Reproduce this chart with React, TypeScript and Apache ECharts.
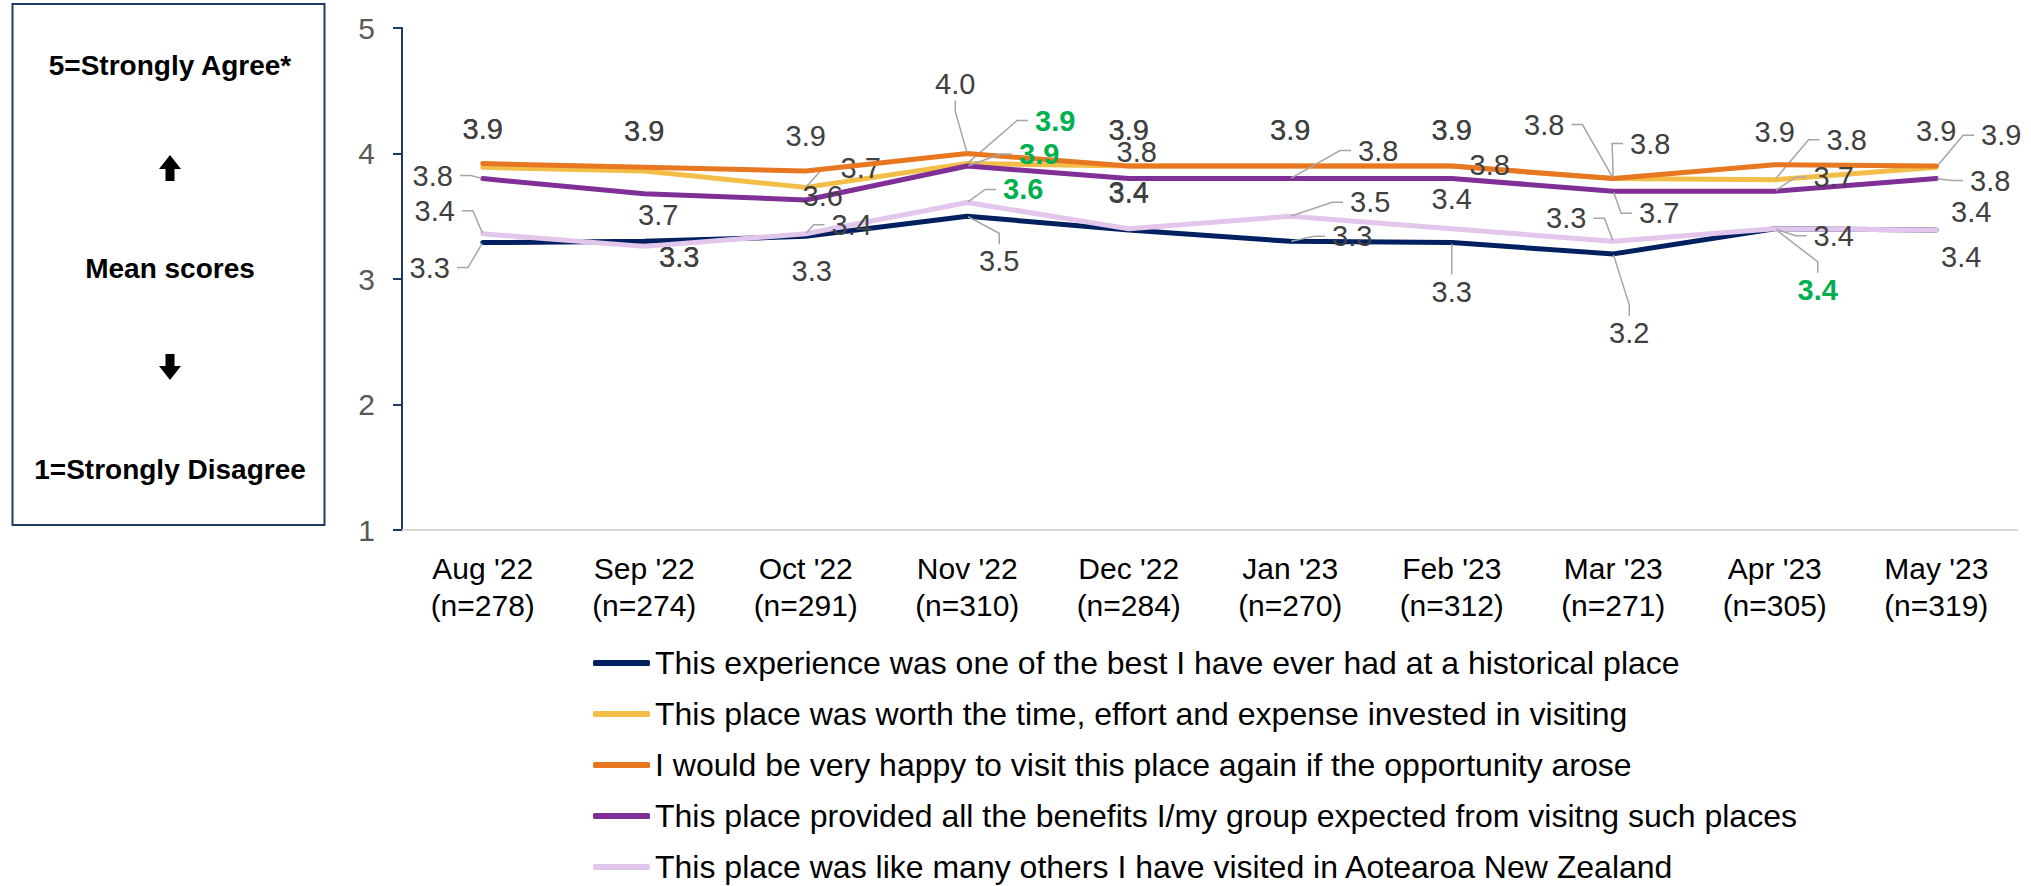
import React, { useEffect, useRef } from "react";
import * as echarts from "echarts";

// ---------- data ----------
const months = ["Aug '22", "Sep '22", "Oct '22", "Nov '22", "Dec '22", "Jan '23", "Feb '23", "Mar '23", "Apr '23", "May '23"];
const sampleSizes = [278, 274, 291, 310, 284, 270, 312, 271, 305, 319];

const seriesNames = [
  "This experience was one of the best I have ever had at a historical place",
  "This place was worth the time, effort and expense invested in visiting",
  "I would be very happy to visit this place again if the opportunity arose",
  "This place provided all the benefits I/my group expected from visitng such places",
  "This place was like many others I have visited in Aotearoa New Zealand",
];

const bestExperience = [3.29, 3.30, 3.34, 3.50, 3.39, 3.30, 3.29, 3.20, 3.40, 3.39];
const worthTime = [3.89, 3.86, 3.73, 3.92, 3.90, 3.90, 3.90, 3.80, 3.79, 3.89];
const visitAgain = [3.92, 3.89, 3.86, 4.00, 3.90, 3.90, 3.90, 3.80, 3.91, 3.90];
const allBenefits = [3.80, 3.68, 3.63, 3.90, 3.80, 3.80, 3.80, 3.70, 3.70, 3.80];
const likeOthers = [3.36, 3.26, 3.36, 3.61, 3.40, 3.50, 3.40, 3.30, 3.40, 3.39];

const yMin = 1;
const yMax = 5;
const yStep = 1;

// ---------- styling / layout (not data) ----------
const colors = ["#002060", "#F2BE48", "#E87722", "#7F2F96", "#E3C6EC"];
const FONT = "'Liberation Sans', Arial, Helvetica, sans-serif";

// label offsets [dx, dy] from each point, per series
const labelOffsets: number[][][] = [
  [[-53, 25], [35, 16], [6, 35], [32, 45], [0, -38], [62, -5], [0, 49], [16, 79], [43, 61], [25, 27]],
  [[0, -38], [0, -40], [55, -19], [88, -43], [0, -36], [0, -36], [0, -36], [37, -35], [72, -40], [65, -32]],
  [[0, -35], [0, -36], [0, -35], [-12, -70], [0, -36], [0, -36], [0, -36], [-69, -54], [0, -33], [0, -35]],
  [[-50, -3], [14, 21], [17, -4], [72, -12], [8, -27], [88, -28], [38, -14], [46, 22], [59, -14], [54, 2]],
  [[-48, -23], [35, 11], [46, -9], [56, -13], [0, -36], [80, -14], [0, -30], [-47, -23], [59, 7], [35, -18]],
];
const leaderShown: number[][] = [
  [1, 0, 0, 1, 0, 1, 1, 1, 1, 0],
  [0, 0, 1, 1, 0, 0, 0, 1, 1, 1],
  [0, 0, 0, 1, 0, 0, 0, 1, 0, 0],
  [1, 0, 0, 1, 0, 1, 0, 1, 1, 1],
  [1, 0, 1, 1, 0, 1, 0, 1, 1, 0],
];
const greenLabels: number[][] = [[8], [3], [], [3], [3]];

export default function App() {
  const ref = useRef<HTMLDivElement>(null);

  useEffect(() => {
    if (!ref.current) return;
    const chart = echarts.init(ref.current, undefined, { renderer: "svg" });
    const allValues = [bestExperience, worthTime, visitAgain, allBenefits, likeOthers];

    const series = allValues.map((vals, si) => ({
      name: seriesNames[si],
      type: "line",
      data: vals.map((v, di) => {
        const item: any = {
          value: v,
          labelLine: { show: !!leaderShown[si][di] },
        };
        if (greenLabels[si].indexOf(di) >= 0) {
          item.label = { color: "#00B050", fontWeight: "bold" };
        }
        return item;
      }),
      symbol: "circle",
      symbolSize: 2,
      showSymbol: true,
      showAllSymbol: true,
      itemStyle: { color: colors[si] },
      lineStyle: { color: colors[si], width: 5, cap: "round", join: "round" },
      label: {
        show: true,
        position: "inside",
        formatter: (p: any) => Number(p.value).toFixed(1),
        fontSize: 29,
        fontFamily: FONT,
        color: "#404040",
        lineHeight: 30,
        padding: [2, 7],
      },
      labelLine: {
        show: false,
        length2: 11,
        lineStyle: { color: "#A6A6A6", width: 1.5 },
      },
      labelLayout: (params: any) => {
        const o = labelOffsets[si][params.dataIndex];
        return { dx: o[0], dy: o[1] };
      },
      emphasis: { disabled: true },
      z: 2 + si,
    }));

    const upArrow = [[170, 155], [181, 169], [174.5, 169], [174.5, 181], [165.5, 181], [165.5, 169], [159, 169]];
    const downArrow = [[165.5, 354], [174.5, 354], [174.5, 366], [181, 366], [170, 380], [159, 366], [165.5, 366]];

    chart.setOption({
      animation: false,
      backgroundColor: "#ffffff",
      textStyle: { fontFamily: FONT },
      grid: { left: 402, right: 14, top: 28, bottom: 356, containLabel: false },
      xAxis: {
        type: "category",
        data: months.map((m, i) => `${m}\n(n=${sampleSizes[i]})`),
        boundaryGap: true,
        axisLine: { show: true, lineStyle: { color: "#D9D9D9", width: 2 } },
        axisTick: { show: false },
        axisLabel: {
          color: "#000000",
          fontSize: 30,
          fontFamily: FONT,
          lineHeight: 37,
          margin: 20,
          interval: 0,
        },
        splitLine: { show: false },
      },
      yAxis: {
        type: "value",
        min: yMin,
        max: yMax,
        interval: yStep,
        axisLine: { show: true, lineStyle: { color: "#1F3864", width: 2 } },
        axisTick: { show: true, length: 9, lineStyle: { color: "#1F3864", width: 2 } },
        axisLabel: { color: "#595959", fontSize: 30, fontFamily: FONT, margin: 27 },
        splitLine: { show: false },
      },
      legend: {
        orient: "vertical",
        left: 593,
        top: 647,
        width: 1400,
        height: 320,
        padding: 0,
        icon: "roundRect",
        itemWidth: 57,
        itemHeight: 6,
        itemGap: 19,
        itemStyle: { borderWidth: 0 },
        textStyle: { color: "#000000", fontSize: 32, fontFamily: FONT, lineHeight: 30 },
        data: seriesNames,
        selectedMode: false,
      },
      graphic: [
        {
          type: "rect",
          shape: { x: 12.5, y: 4, width: 312, height: 521 },
          style: { fill: "transparent", stroke: "#1F3864", lineWidth: 2 },
        },
        {
          type: "text",
          x: 170,
          y: 65,
          style: { text: "5=Strongly Agree*", fontSize: 28, fontWeight: "bold", fontFamily: FONT, fill: "#000", align: "center", verticalAlign: "middle" },
        },
        {
          type: "text",
          x: 170,
          y: 268,
          style: { text: "Mean scores", fontSize: 28, fontWeight: "bold", fontFamily: FONT, fill: "#000", align: "center", verticalAlign: "middle" },
        },
        {
          type: "text",
          x: 170,
          y: 469,
          style: { text: "1=Strongly Disagree", fontSize: 28, fontWeight: "bold", fontFamily: FONT, fill: "#000", align: "center", verticalAlign: "middle" },
        },
        { type: "polygon", shape: { points: upArrow }, style: { fill: "#000" } },
        { type: "polygon", shape: { points: downArrow }, style: { fill: "#000" } },
      ],
      series,
    });

    return () => chart.dispose();
  }, []);

  return (
    <div
      ref={ref}
      style={{ position: "fixed", left: 0, top: 0, width: 2031, height: 886, background: "#fff" }}
    />
  );
}
